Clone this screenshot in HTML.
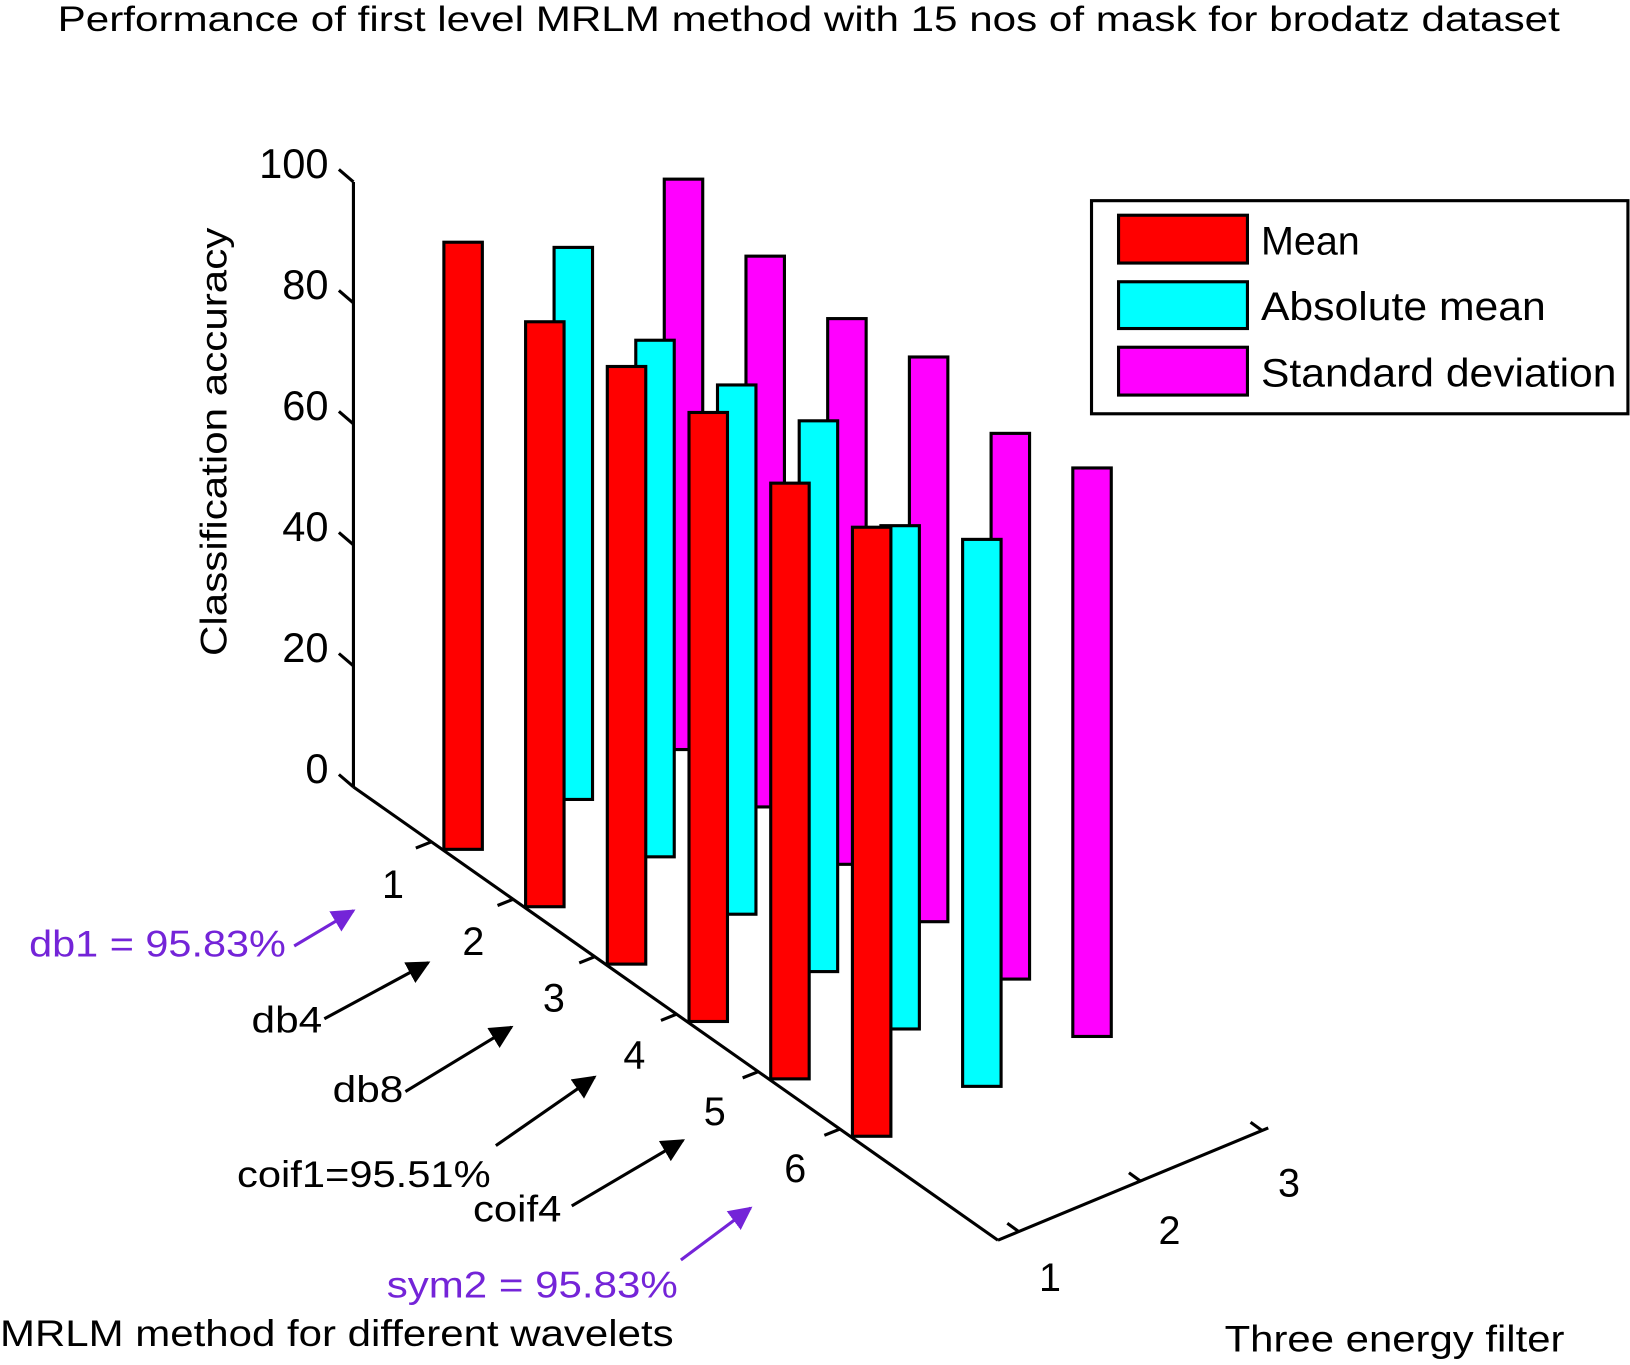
<!DOCTYPE html>
<html><head><meta charset="utf-8"><style>
html,body{margin:0;padding:0;background:#fff;}
svg{display:block;font-family:"Liberation Sans",Arial,sans-serif;}
</style></head><body>
<svg id="chart" width="1630" height="1365" viewBox="0 0 1568 1313" xmlns="http://www.w3.org/2000/svg">
<defs>
<marker id="ah" viewBox="0 0 10 10" refX="9" refY="5" markerWidth="7.5" markerHeight="7.5" orient="auto" markerUnits="strokeWidth"><path d="M0,0 L10,5 L0,10 z" fill="#000"/></marker>
<marker id="ahp" viewBox="0 0 10 10" refX="9" refY="5" markerWidth="7.5" markerHeight="7.5" orient="auto" markerUnits="strokeWidth"><path d="M0,0 L10,5 L0,10 z" fill="#7424d8"/></marker>
</defs>
<text x="778" y="30" font-size="34" text-anchor="middle" textLength="1445" lengthAdjust="spacingAndGlyphs">Performance of first level MRLM method with 15 nos of mask for brodatz dataset</text>
<text transform="translate(218,425) rotate(-90)" font-size="36" text-anchor="middle" textLength="412" lengthAdjust="spacingAndGlyphs">Classification accuracy</text>
<g id="axes"></g>
<g id="bars"></g>
<g>
<rect x="1050" y="193" width="516" height="205" fill="#fff" stroke="#000" stroke-width="3"/>
<rect x="1076" y="207" width="124" height="46" fill="#ff0000" stroke="#000" stroke-width="3"/>
<rect x="1076" y="271" width="124" height="45" fill="#00ffff" stroke="#000" stroke-width="3"/>
<rect x="1076" y="334" width="124" height="46" fill="#ff00ff" stroke="#000" stroke-width="3"/>
<text x="1213" y="245" font-size="38">Mean</text>
<text x="1213" y="308" font-size="38" textLength="274" lengthAdjust="spacingAndGlyphs">Absolute mean</text>
<text x="1213" y="372" font-size="38" textLength="342" lengthAdjust="spacingAndGlyphs">Standard deviation</text>
</g>
<g font-size="36">
<text x="28" y="920" fill="#7424d8" textLength="247" lengthAdjust="spacingAndGlyphs">db1 = 95.83%</text>
<line x1="283" y1="910" x2="340" y2="876" stroke="#7424d8" stroke-width="3" marker-end="url(#ahp)"/>
<text x="242" y="993" textLength="68" lengthAdjust="spacingAndGlyphs">db4</text>
<line x1="312" y1="980" x2="412" y2="926" stroke="#000" stroke-width="3" marker-end="url(#ah)"/>
<text x="320" y="1060" textLength="68" lengthAdjust="spacingAndGlyphs">db8</text>
<line x1="390" y1="1050" x2="492" y2="988" stroke="#000" stroke-width="3" marker-end="url(#ah)"/>
<text x="228" y="1142" textLength="244" lengthAdjust="spacingAndGlyphs">coif1=95.51%</text>
<line x1="477" y1="1102" x2="572" y2="1036" stroke="#000" stroke-width="3" marker-end="url(#ah)"/>
<text x="455" y="1175" textLength="85" lengthAdjust="spacingAndGlyphs">coif4</text>
<line x1="550" y1="1160" x2="657" y2="1097" stroke="#000" stroke-width="3" marker-end="url(#ah)"/>
<text x="372" y="1248" fill="#7424d8" textLength="280" lengthAdjust="spacingAndGlyphs">sym2 = 95.83%</text>
<line x1="655" y1="1212" x2="722" y2="1162" stroke="#7424d8" stroke-width="3" marker-end="url(#ahp)"/>
<text x="0" y="1295" textLength="648" lengthAdjust="spacingAndGlyphs">MRLM method for different wavelets</text>
<text x="1178" y="1300" textLength="327" lengthAdjust="spacingAndGlyphs">Three energy filter</text>
</g>
</svg>
<script>
const wavelets = [1, 2, 3, 4, 5, 6];
const filters = ["Mean", "Absolute mean", "Standard deviation"];
const meanVals = [95.9, 92.4, 94.4, 96.2, 94.1, 96.2];
const absMeanVals = [87.2, 81.6, 83.6, 87.0, 79.5, 86.4];
const stdVals = [90.1, 87.0, 86.2, 89.2, 86.2, 89.8];
const zTicks = [0, 20, 40, 60, 80, 100];
const filterTicks = [1, 2, 3];

const NS = "http://www.w3.org/2000/svg";
const colors = ["#ff0000", "#00ffff", "#ff00ff"];
const series = [meanVals, absMeanVals, stdVals];
function px(i, j) { return 427 + (i - 1) * 78.6 + (j - 1) * 106; }
function py(i, j) { return 817 + (i - 1) * 55.2 - (j - 1) * 48; }
function barH(v) { return v * 6.09; }
function zAxisY(v) { return 757 - v * 5.82; }
function mk(tag, attrs, parent) {
  const e = document.createElementNS(NS, tag);
  for (const k in attrs) e.setAttribute(k, attrs[k]);
  parent.appendChild(e); return e;
}
const axes = document.getElementById("axes");
const bars = document.getElementById("bars");
let l = mk("line", {x1: 340, y1: 757, x2: 340, y2: 175, stroke: "#000", "stroke-width": 3}, axes);


zTicks.forEach(v => {
  const y = zAxisY(v);
  const t = mk("line", {x1: 340, y1: y, x2: 326, y2: y - 12, stroke: "#000", "stroke-width": 3}, axes);
  
  
  const tx = mk("text", {x: 316, y: y - 4, "font-size": 40, "text-anchor": "end"}, axes);
  tx.textContent = v;
  
  
});
l = mk("line", {x1: 340, y1: 757, x2: 960, y2: 1193, stroke: "#000", "stroke-width": 3}, axes);


wavelets.forEach(i => {
  const x = 415 + (i - 1) * 78.6, y = 757 + (x - 340) * (436 / 620);
  const t = mk("line", {x1: x, y1: y, x2: x - 15, y2: y + 6, stroke: "#000", "stroke-width": 3}, axes);
  
  
  const tx = mk("text", {x: 378 + (i - 1) * 77.4, y: 864 + (i - 1) * 54.6, "font-size": 38, "text-anchor": "middle"}, axes);
  tx.textContent = i;
  
  
});
l = mk("line", {x1: 960, y1: 1193, x2: 1220, y2: 1085, stroke: "#000", "stroke-width": 3}, axes);


filterTicks.forEach(j => {
  const x = 980 + (j - 1) * 117, y = 1193 - (x - 960) * (108 / 260);
  const t = mk("line", {x1: x, y1: y, x2: x - 11, y2: y - 8, stroke: "#000", "stroke-width": 3}, axes);
  
  
  const tx = mk("text", {x: 1010 + (j - 1) * 115, y: 1242 - (j - 1) * 45.5, "font-size": 38, "text-anchor": "middle"}, axes);
  tx.textContent = j;
  
  
});
for (let j = 3; j >= 1; j--) {
  wavelets.forEach((w, k) => {
    const i = w;
    const h = barH(series[j - 1][k]);
    const x = px(i, j), yb = py(i, j);
    const r = mk("rect", {x: x, y: yb - h, width: 37, height: h, fill: colors[j - 1], stroke: "#000", "stroke-width": 3}, bars);
    
    
  });
}
</script>
</body></html>
